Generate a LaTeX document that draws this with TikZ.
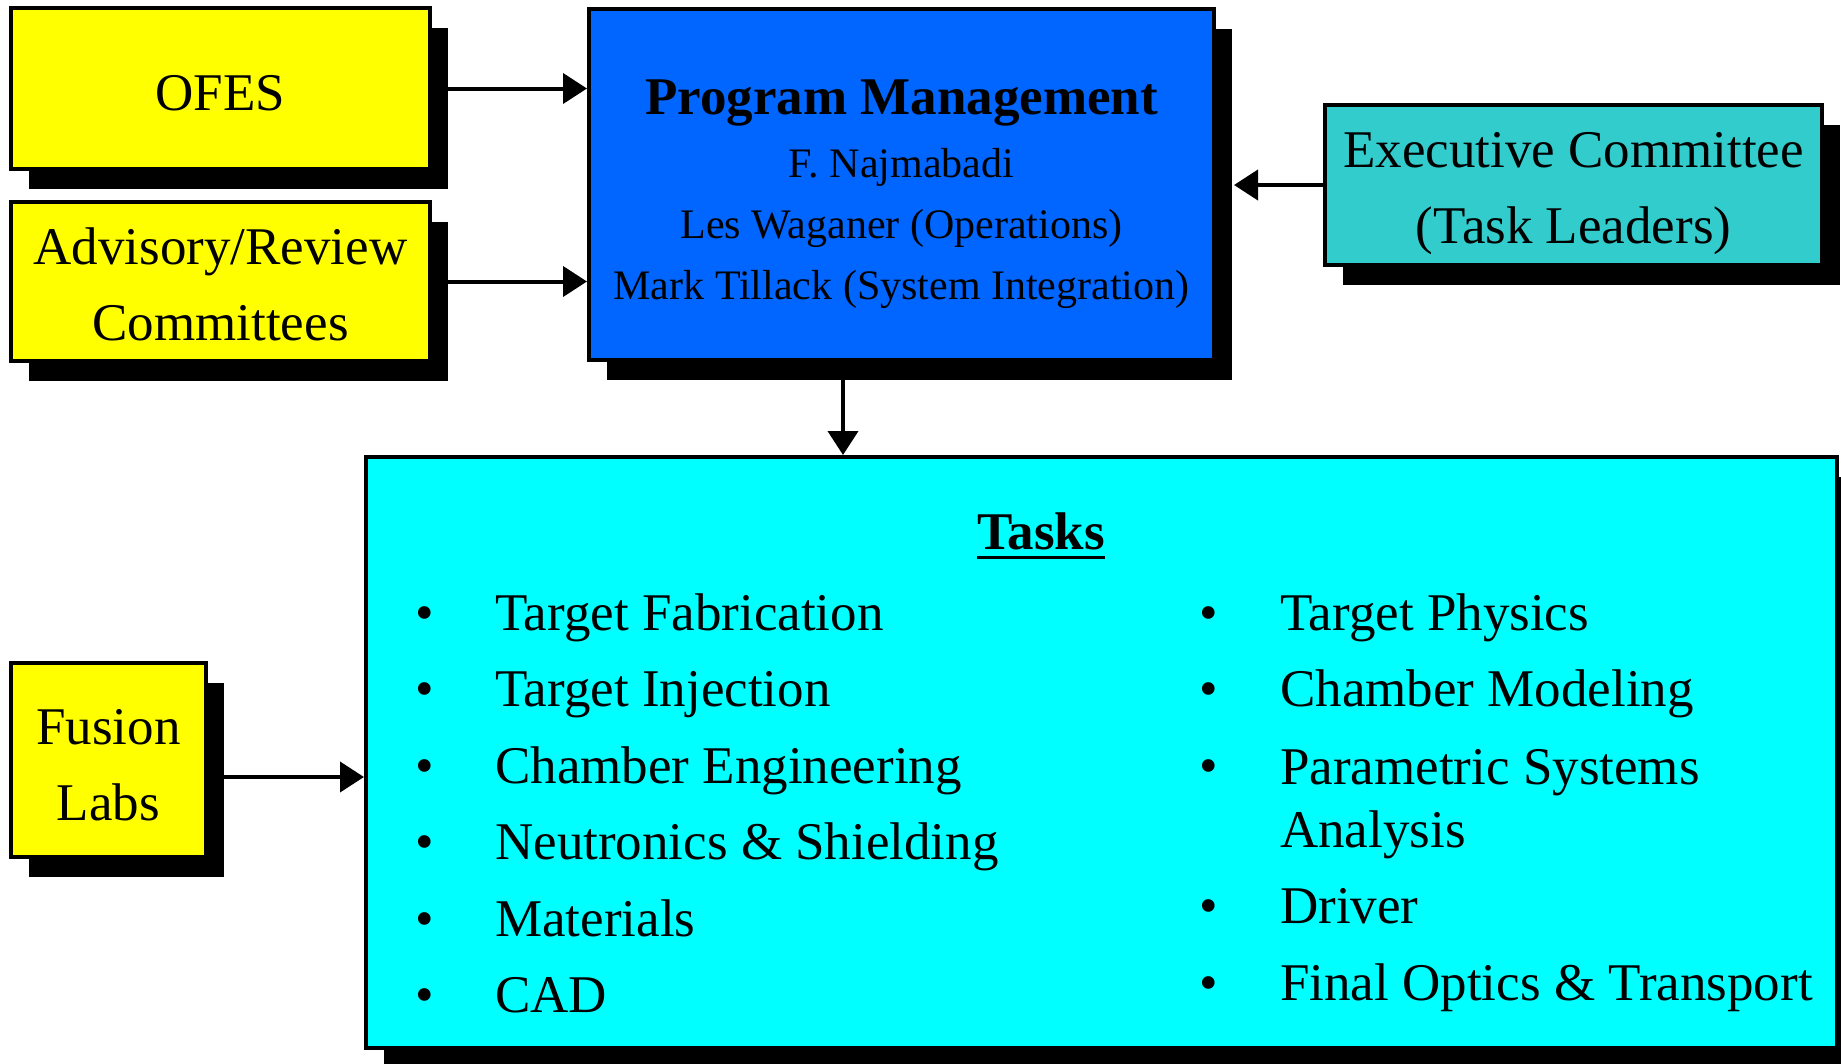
\documentclass[tikz,border=0pt]{standalone}
\usepackage{fontspec}
\setmainfont{Liberation Serif}
\usetikzlibrary{arrows.meta,shadows}
\definecolor{ylw}{HTML}{FFFF00}
\definecolor{pmblue}{HTML}{0066FF}
\definecolor{teal2}{HTML}{33CCCC}
\definecolor{cyan2}{HTML}{00FFFF}
\begin{document}
\begin{tikzpicture}[x=1pt,y=-1pt,
  box/.style={draw=black, line width=4pt, anchor=north west, inner sep=0pt, align=center,
    font=\fontsize{53}{76}\selectfont,
    drop shadow={shadow xshift=18pt, shadow yshift=-20pt, fill=black, opacity=1}},
  conn/.style={line width=4pt, -{Triangle[length=24pt,width=30pt]}},
  itemtxt/.style={anchor=base west, inner sep=0pt, align=left, font=\fontsize{53}{63}\selectfont},
  bul/.style={anchor=base, inner sep=0pt, font=\fontsize{53}{63}\selectfont}
]
\clip (0,0) rectangle (1841,1063);
\fill[white] (0,0) rectangle (1841,1063);

% boxes
\node[box, fill=ylw, minimum width=419pt, minimum height=161pt, text height=43pt, text depth=0pt] (ofes) at (9,6) {OFES};
\node[box, fill=ylw, minimum width=419pt, minimum height=159pt, text height=117pt, text depth=0pt] (adv) at (9,200) {Advisory/Review\\Committees};
\node[box, fill=pmblue, minimum width=625pt, minimum height=351pt, text height=229pt, text depth=0pt,
      font=\fontsize{42}{61}\selectfont] (pm) at (587,7)
  {{\bfseries\fontsize{53}{63}\selectfont Program Management}\\[2pt]F. Najmabadi\\Les Waganer (Operations)\\Mark Tillack (System Integration)};
\node[box, fill=teal2, minimum width=497pt, minimum height=160pt, text height=116pt, text depth=0pt] (exec) at (1323,103) {Executive Committee\\(Task Leaders)};
\node[box, fill=ylw, minimum width=195pt, minimum height=194pt, text height=120pt, text depth=0pt] (fus) at (9,661) {Fusion\\Labs};
\node[box, fill=cyan2, minimum width=1471pt, minimum height=591pt] (tasks) at (364,455) {};

% tasks content
\node[anchor=base, inner sep=0pt, font=\bfseries\fontsize{53}{63}\selectfont] (tt) at (1041,549) {Tasks};
\draw[line width=3pt] ([yshift=-8pt]tt.base west) -- ([yshift=-8pt]tt.base east);

\node[bul] (bl1) at (425,630) {•};
\node[bul] (bl2) at (425,706.5) {•};
\node[bul] (bl3) at (425,783) {•};
\node[bul] (bl4) at (425,859.5) {•};
\node[bul] (bl5) at (425,936) {•};
\node[bul] (bl6) at (425,1012.5) {•};
\node[itemtxt] (l1) at (495,630) {Target Fabrication};
\node[itemtxt] (l2) at (495,706.5) {Target Injection};
\node[itemtxt] (l3) at (495,783) {Chamber Engineering};
\node[itemtxt] (l4) at (495,859.5) {Neutronics \& Shielding};
\node[itemtxt] (l5) at (495,936) {Materials};
\node[itemtxt] (l6) at (495,1012.5) {CAD};

\node[bul] (br1) at (1209,630) {•};
\node[bul] (br2) at (1209,706.5) {•};
\node[bul] (br3) at (1209,783) {•};
\node[bul] (br4) at (1209,923) {•};
\node[bul] (br5) at (1209,1000) {•};
\node[itemtxt] (r1) at (1280,630) {Target Physics};
\node[itemtxt] (r2) at (1280,706.5) {Chamber Modeling};
\node[itemtxt] (r3) at (1280,847) {Parametric Systems\\Analysis};
\node[itemtxt] (r4) at (1280,923) {Driver};
\node[itemtxt] (r5) at (1280,1000) {Final Optics \& Transport};

% connectors
\coordinate (pmx) at (843,0);
\draw[conn] (ofes.east) -- (ofes.east -| pm.west);
\draw[conn] (adv.east) -- (adv.east -| pm.west);
\draw[conn] (exec.west) -- ([xshift=18pt]exec.west -| pm.east);
\draw[conn] (pm.south -| pmx) -- (tasks.north -| pmx);
\draw[conn] ([yshift=-17pt]fus.east) -- ([yshift=-17pt]fus.east -| tasks.west);
\end{tikzpicture}
\end{document}
